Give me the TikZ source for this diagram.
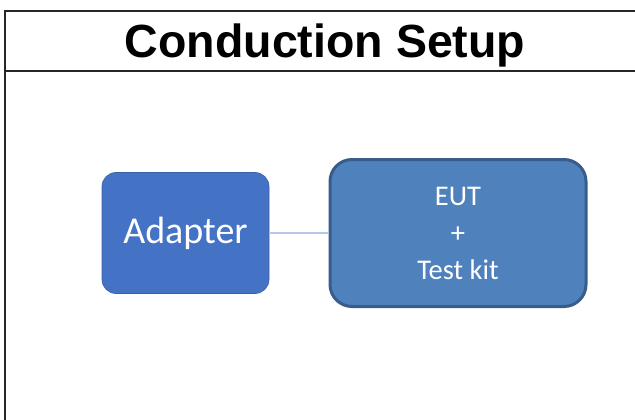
\documentclass[tikz,border=0pt]{standalone}
\usepackage{fontspec}
\setmainfont{Carlito}
\newfontfamily\titlefont{Liberation Sans}
\definecolor{adapterblue}{HTML}{4472C4}
\definecolor{eutblue}{HTML}{4F81BD}
\definecolor{eutedge}{HTML}{385D8A}
\definecolor{wireblue}{HTML}{B4C7E7}
\definecolor{framegray}{HTML}{262626}
\begin{document}
\begin{tikzpicture}[x=1pt,y=-1pt,
  framestroke/.style={draw=framegray,line width=1.6pt},
  adapterbox/.style={rectangle,rounded corners=14pt,fill=adapterblue,draw=adapterblue!85!black,line width=0.6pt,
    minimum width=167pt,minimum height=121pt,text=white,font=\fontsize{38}{42}\selectfont},
  eutbox/.style={rectangle,rounded corners=22pt,fill=eutblue,draw=eutedge,line width=3pt,
    minimum width=256pt,minimum height=147pt,text=white,align=center,font=\fontsize{28.5}{37}\selectfont},
  wire/.style={draw=wireblue,line width=1.2pt}]
\useasboundingbox (0,0) rectangle (635,420);
\fill[white] (0,0) rectangle (635,420);
% frame: left edge, top edge and title separator
\draw[framestroke] (5,420) -- (5,11) -- (635,11);
\draw[framestroke] (5,71) -- (635,71);
\node[font=\titlefont\bfseries\fontsize{46.5}{50}\selectfont,anchor=base] (title) at (325,58) {Conduction Setup};
% blocks
\node[adapterbox] (adapter) at (185.5,233) {Adapter};
\node[eutbox] (eut) at (458,233) {EUT\\+\\Test kit};
\draw[wire] (adapter.east) -- (eut.west);
\end{tikzpicture}
\end{document}
